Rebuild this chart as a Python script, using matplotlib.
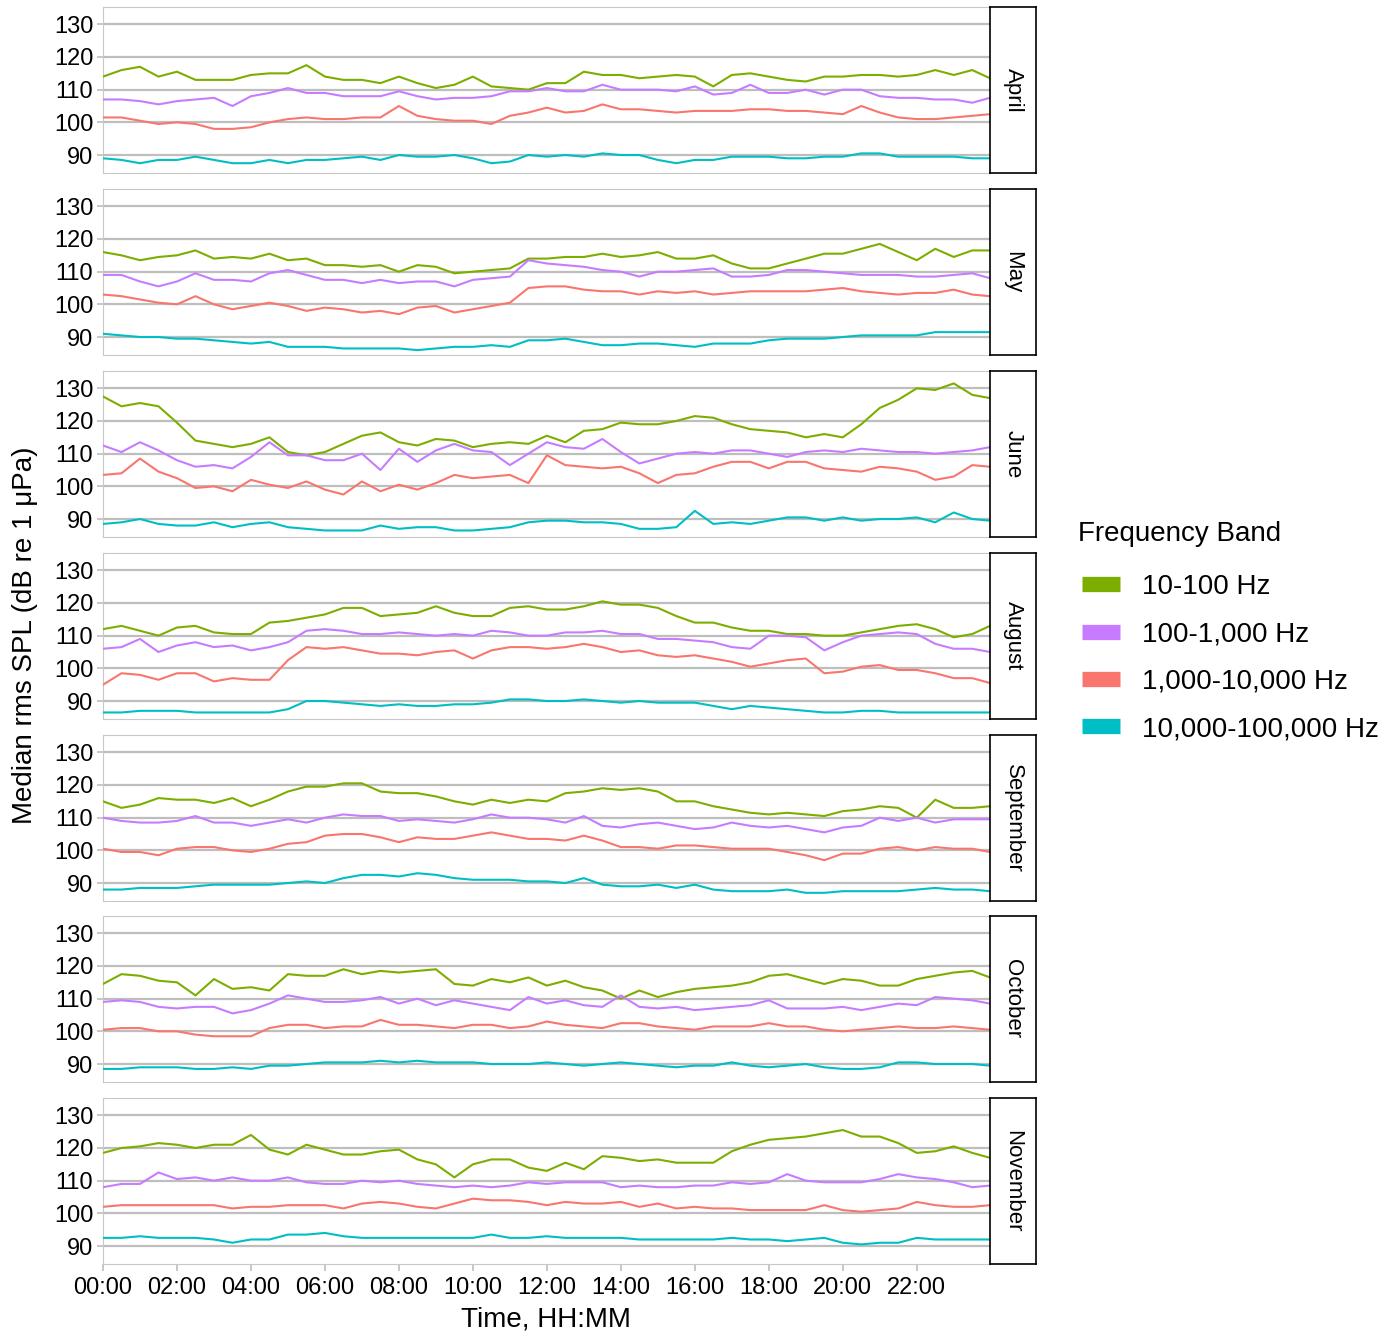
import numpy as np
import matplotlib
matplotlib.use('Agg')
import matplotlib.pyplot as plt
from matplotlib import font_manager
from matplotlib.lines import Line2D

# half-hourly medians, 00:00 .. 24:00
april_10_100 = [114, 116, 117, 114, 115.5, 113, 113, 113, 114.5, 115, 115, 117.5, 114, 113, 113, 112, 114, 112, 110.5, 111.5, 114, 111, 110.5, 110, 112,
                112, 115.5, 114.5, 114.5, 113.5, 114, 114.5, 114, 111, 114.5, 115, 114, 113, 112.5, 114, 114, 114.5, 114.5, 114, 114.5, 116, 114.5, 116, 113.5]
april_100_1k = [107, 107, 106.5, 105.5, 106.5, 107, 107.5, 105, 108, 109, 110.5, 109, 109, 108, 108, 108, 109.5, 108, 107, 107.5, 107.5, 108, 109.5, 109.5, 110.5,
                109.5, 109.5, 111.5, 110, 110, 110, 109.5, 111, 108.5, 109, 111.5, 109, 109, 110, 108.5, 110, 110, 108, 107.5, 107.5, 107, 107, 106, 107.5]
april_1k_10k = [101.5, 101.5, 100.5, 99.5, 100, 99.5, 98, 98, 98.5, 100, 101, 101.5, 101, 101, 101.5, 101.5, 105, 102, 101, 100.5, 100.5, 99.5, 102, 103, 104.5,
                103, 103.5, 105.5, 104, 104, 103.5, 103, 103.5, 103.5, 103.5, 104, 104, 103.5, 103.5, 103, 102.5, 105, 103, 101.5, 101, 101, 101.5, 102, 102.5]
april_10k_100k = [89, 88.5, 87.5, 88.5, 88.5, 89.5, 88.5, 87.5, 87.5, 88.5, 87.5, 88.5, 88.5, 89, 89.5, 88.5, 90, 89.5, 89.5, 90, 89, 87.5, 88, 90, 89.5,
                  90, 89.5, 90.5, 90, 90, 88.5, 87.5, 88.5, 88.5, 89.5, 89.5, 89.5, 89, 89, 89.5, 89.5, 90.5, 90.5, 89.5, 89.5, 89.5, 89.5, 89, 89]

may_10_100 = [116, 115, 113.5, 114.5, 115, 116.5, 114, 114.5, 114, 115.5, 113.5, 114, 112, 112, 111.5, 112, 110, 112, 111.5, 109.5, 110, 110.5, 111, 114, 114,
              114.5, 114.5, 115.5, 114.5, 115, 116, 114, 114, 115, 112.5, 111, 111, 112.5, 114, 115.5, 115.5, 117, 118.5, 116, 113.5, 117, 114.5, 116.5, 116.5]
may_100_1k = [109, 109, 107, 105.5, 107, 109.5, 107.5, 107.5, 107, 109.5, 110.5, 109, 107.5, 107.5, 106.5, 107.5, 106.5, 107, 107, 105.5, 107.5, 108, 108.5, 113.5, 112.5,
              112, 111.5, 110.5, 110, 108.5, 110, 110, 110.5, 111, 108.5, 108.5, 109, 110.5, 110.5, 110, 109.5, 109, 109, 109, 108.5, 108.5, 109, 109.5, 108]
may_1k_10k = [103, 102.5, 101.5, 100.5, 100, 102.5, 100, 98.5, 99.5, 100.5, 99.5, 98, 99, 98.5, 97.5, 98, 97, 99, 99.5, 97.5, 98.5, 99.5, 100.5, 105, 105.5,
              105.5, 104.5, 104, 104, 103, 104, 103.5, 104, 103, 103.5, 104, 104, 104, 104, 104.5, 105, 104, 103.5, 103, 103.5, 103.5, 104.5, 103, 102.5]
may_10k_100k = [91, 90.5, 90, 90, 89.5, 89.5, 89, 88.5, 88, 88.5, 87, 87, 87, 86.5, 86.5, 86.5, 86.5, 86, 86.5, 87, 87, 87.5, 87, 89, 89,
                89.5, 88.5, 87.5, 87.5, 88, 88, 87.5, 87, 88, 88, 88, 89, 89.5, 89.5, 89.5, 90, 90.5, 90.5, 90.5, 90.5, 91.5, 91.5, 91.5, 91.5]

june_10_100 = [127.5, 124.5, 125.5, 124.5, 119.5, 114, 113, 112, 113, 115, 110.5, 109.5, 110.5, 113, 115.5, 116.5, 113.5, 112.5, 114.5, 114, 112, 113, 113.5, 113, 115.5,
               113.5, 117, 117.5, 119.5, 119, 119, 120, 121.5, 121, 119, 117.5, 117, 116.5, 115, 116, 115, 119, 124, 126.5, 130, 129.5, 131.5, 128, 127]
june_100_1k = [112.5, 110.5, 113.5, 111, 108, 106, 106.5, 105.5, 109, 113.5, 109.5, 109.5, 108, 108, 110, 105, 111.5, 107.5, 111, 113, 111, 110.5, 106.5, 110, 113.5,
               112, 111.5, 114.5, 110.5, 107, 108.5, 110, 110.5, 110, 111, 111, 110, 109, 110.5, 111, 110.5, 111.5, 111, 110.5, 110.5, 110, 110.5, 111, 112]
june_1k_10k = [103.5, 104, 108.5, 104.5, 102.5, 99.5, 100, 98.5, 102, 100.5, 99.5, 101.5, 99, 97.5, 101.5, 98.5, 100.5, 99, 101, 103.5, 102.5, 103, 103.5, 101, 109.5,
               106.5, 106, 105.5, 106, 104, 101, 103.5, 104, 106, 107.5, 107.5, 105.5, 107.5, 107.5, 105.5, 105, 104.5, 106, 105.5, 104.5, 102, 103, 106.5, 106]
june_10k_100k = [88.5, 89, 90, 88.5, 88, 88, 89, 87.5, 88.5, 89, 87.5, 87, 86.5, 86.5, 86.5, 88, 87, 87.5, 87.5, 86.5, 86.5, 87, 87.5, 89, 89.5,
                 89.5, 89, 89, 88.5, 87, 87, 87.5, 92.5, 88.5, 89, 88.5, 89.5, 90.5, 90.5, 89.5, 90.5, 89.5, 90, 90, 90.5, 89, 92, 90, 89.5]

august_10_100 = [112, 113, 111.5, 110, 112.5, 113, 111, 110.5, 110.5, 114, 114.5, 115.5, 116.5, 118.5, 118.5, 116, 116.5, 117, 119, 117, 116, 116, 118.5, 119, 118,
                 118, 119, 120.5, 119.5, 119.5, 118.5, 116, 114, 114, 112.5, 111.5, 111.5, 110.5, 110.5, 110, 110, 111, 112, 113, 113.5, 112, 109.5, 110.5, 113]
august_100_1k = [106, 106.5, 109, 105, 107, 108, 106.5, 107, 105.5, 106.5, 108, 111.5, 112, 111.5, 110.5, 110.5, 111, 110.5, 110, 110.5, 110, 111.5, 111, 110, 110,
                 111, 111, 111.5, 110.5, 110.5, 109, 109, 108.5, 108, 106.5, 106, 110, 110, 109.5, 105.5, 108, 110, 110.5, 111, 110.5, 107.5, 106, 106, 105]
august_1k_10k = [95, 98.5, 98, 96.5, 98.5, 98.5, 96, 97, 96.5, 96.5, 102.5, 106.5, 106, 106.5, 105.5, 104.5, 104.5, 104, 105, 105.5, 103, 105.5, 106.5, 106.5, 106,
                 106.5, 107.5, 106.5, 105, 105.5, 104, 103.5, 104, 103, 102, 100.5, 101.5, 102.5, 103, 98.5, 99, 100.5, 101, 99.5, 99.5, 98.5, 97, 97, 95.5]
august_10k_100k = [86.5, 86.5, 87, 87, 87, 86.5, 86.5, 86.5, 86.5, 86.5, 87.5, 90, 90, 89.5, 89, 88.5, 89, 88.5, 88.5, 89, 89, 89.5, 90.5, 90.5, 90,
                   90, 90.5, 90, 89.5, 90, 89.5, 89.5, 89.5, 88.5, 87.5, 88.5, 88, 87.5, 87, 86.5, 86.5, 87, 87, 86.5, 86.5, 86.5, 86.5, 86.5, 86.5]

september_10_100 = [115, 113, 114, 116, 115.5, 115.5, 114.5, 116, 113.5, 115.5, 118, 119.5, 119.5, 120.5, 120.5, 118, 117.5, 117.5, 116.5, 115, 114, 115.5, 114.5, 115.5, 115,
                    117.5, 118, 119, 118.5, 119, 118, 115, 115, 113.5, 112.5, 111.5, 111, 111.5, 111, 110.5, 112, 112.5, 113.5, 113, 110, 115.5, 113, 113, 113.5]
september_100_1k = [110, 109, 108.5, 108.5, 109, 110.5, 108.5, 108.5, 107.5, 108.5, 109.5, 108.5, 110, 111, 110.5, 110.5, 109, 109.5, 109, 108.5, 109.5, 111, 110, 110, 109.5,
                    108.5, 110.5, 107.5, 107, 108, 108.5, 107.5, 106.5, 107, 108.5, 107.5, 107, 107.5, 106.5, 105.5, 107, 107.5, 110, 109, 110, 108.5, 109.5, 109.5, 109.5]
september_1k_10k = [100.5, 99.5, 99.5, 98.5, 100.5, 101, 101, 100, 99.5, 100.5, 102, 102.5, 104.5, 105, 105, 104, 102.5, 104, 103.5, 103.5, 104.5, 105.5, 104.5, 103.5, 103.5,
                    103, 104.5, 103, 101, 101, 100.5, 101.5, 101.5, 101, 100.5, 100.5, 100.5, 99.5, 98.5, 97, 99, 99, 100.5, 101, 100, 101, 100.5, 100.5, 99.5]
september_10k_100k = [88, 88, 88.5, 88.5, 88.5, 89, 89.5, 89.5, 89.5, 89.5, 90, 90.5, 90, 91.5, 92.5, 92.5, 92, 93, 92.5, 91.5, 91, 91, 91, 90.5, 90.5,
                      90, 91.5, 89.5, 89, 89, 89.5, 88.5, 89.5, 88, 87.5, 87.5, 87.5, 88, 87, 87, 87.5, 87.5, 87.5, 87.5, 88, 88.5, 88, 88, 87.5]

october_10_100 = [114.5, 117.5, 117, 115.5, 115, 111, 116, 113, 113.5, 112.5, 117.5, 117, 117, 119, 117.5, 118.5, 118, 118.5, 119, 114.5, 114, 116, 115, 116.5, 114,
                  115.5, 113.5, 112.5, 110, 112.5, 110.5, 112, 113, 113.5, 114, 115, 117, 117.5, 116, 114.5, 116, 115.5, 114, 114, 116, 117, 118, 118.5, 116.5]
october_100_1k = [109, 109.5, 109, 107.5, 107, 107.5, 107.5, 105.5, 106.5, 108.5, 111, 110, 109, 109, 109.5, 110.5, 108.5, 110, 108, 109.5, 108.5, 107.5, 106.5, 110.5, 108.5,
                  109.5, 108, 107.5, 111, 107.5, 107, 107.5, 106.5, 107, 107.5, 108, 109.5, 107, 107, 107, 107.5, 106.5, 107.5, 108.5, 108, 110.5, 110, 109.5, 108.5]
october_1k_10k = [100.5, 101, 101, 100, 100, 99, 98.5, 98.5, 98.5, 101, 102, 102, 101, 101.5, 101.5, 103.5, 102, 102, 101.5, 101, 102, 102, 101, 101.5, 103,
                  102, 101.5, 101, 102.5, 102.5, 101.5, 101, 100.5, 101.5, 101.5, 101.5, 102.5, 101.5, 101.5, 100.5, 100, 100.5, 101, 101.5, 101, 101, 101.5, 101, 100.5]
october_10k_100k = [88.5, 88.5, 89, 89, 89, 88.5, 88.5, 89, 88.5, 89.5, 89.5, 90, 90.5, 90.5, 90.5, 91, 90.5, 91, 90.5, 90.5, 90.5, 90, 90, 90, 90.5,
                    90, 89.5, 90, 90.5, 90, 89.5, 89, 89.5, 89.5, 90.5, 89.5, 89, 89.5, 90, 89, 88.5, 88.5, 89, 90.5, 90.5, 90, 90, 90, 89.5]

november_10_100 = [118.5, 120, 120.5, 121.5, 121, 120, 121, 121, 124, 119.5, 118, 121, 119.5, 118, 118, 119, 119.5, 116.5, 115, 111, 115, 116.5, 116.5, 114, 113,
                   115.5, 113.5, 117.5, 117, 116, 116.5, 115.5, 115.5, 115.5, 119, 121, 122.5, 123, 123.5, 124.5, 125.5, 123.5, 123.5, 121.5, 118.5, 119, 120.5, 118.5, 117]
november_100_1k = [108, 109, 109, 112.5, 110.5, 111, 110, 111, 110, 110, 111, 109.5, 109, 109, 110, 109.5, 110, 109, 108.5, 108, 108.5, 108, 108.5, 109.5, 109,
                   109.5, 109.5, 109.5, 108, 108.5, 108, 108, 108.5, 108.5, 109.5, 109, 109.5, 112, 110, 109.5, 109.5, 109.5, 110.5, 112, 111, 110.5, 109.5, 108, 108.5]
november_1k_10k = [102, 102.5, 102.5, 102.5, 102.5, 102.5, 102.5, 101.5, 102, 102, 102.5, 102.5, 102.5, 101.5, 103, 103.5, 103, 102, 101.5, 103, 104.5, 104, 104, 103.5, 102.5,
                   103.5, 103, 103, 103.5, 102, 103, 101.5, 102, 101.5, 101.5, 101, 101, 101, 101, 102.5, 101, 100.5, 101, 101.5, 103.5, 102.5, 102, 102, 102.5]
november_10k_100k = [92.5, 92.5, 93, 92.5, 92.5, 92.5, 92, 91, 92, 92, 93.5, 93.5, 94, 93, 92.5, 92.5, 92.5, 92.5, 92.5, 92.5, 92.5, 93.5, 92.5, 92.5, 93,
                     92.5, 92.5, 92.5, 92.5, 92, 92, 92, 92, 92, 92.5, 92, 92, 91.5, 92, 92.5, 91, 90.5, 91, 91, 92.5, 92, 92, 92, 92]

months = ['April', 'May', 'June', 'August', 'September', 'October', 'November']
bands = ['10-100 Hz', '100-1,000 Hz', '1,000-10,000 Hz', '10,000-100,000 Hz']
band_colors = ['#7CAE00', '#C77CFF', '#F8766D', '#00BFC4']
xtick_hours = [0, 2, 4, 6, 8, 10, 12, 14, 16, 18, 20, 22]
xtick_labels = ['%02d:00' % h for h in xtick_hours]
ytick_vals = [90, 100, 110, 120, 130]

data = {
    'April': [april_10_100, april_100_1k, april_1k_10k, april_10k_100k],
    'May': [may_10_100, may_100_1k, may_1k_10k, may_10k_100k],
    'June': [june_10_100, june_100_1k, june_1k_10k, june_10k_100k],
    'August': [august_10_100, august_100_1k, august_1k_10k, august_10k_100k],
    'September': [september_10_100, september_100_1k, september_1k_10k, september_10k_100k],
    'October': [october_10_100, october_100_1k, october_1k_10k, october_10k_100k],
    'November': [november_10_100, november_100_1k, november_1k_10k, november_10k_100k],
}


def has_font(name):
    try:
        font_manager.findfont(name, fallback_to_default=False)
        return True
    except Exception:
        return False


main_font = 'Liberation Sans' if has_font('Liberation Sans') else 'DejaVu Sans'
tick_font = 'Liberation Sans Narrow' if has_font('Liberation Sans Narrow') else main_font
plt.rcParams['font.family'] = main_font

W, H = 1397, 1337
fig = plt.figure(figsize=(W / 100, H / 100), dpi=100)

left, right = 103, 990
tops = [7, 189, 371, 553, 735, 916, 1098]
ph = 166
grid_col = '#bebebe'

for i, month in enumerate(months):
    top = tops[i]
    ax = fig.add_axes([left / W, 1 - (top + ph) / H, (right - left) / W, ph / H])
    for vals, col in zip(data[month], band_colors):
        v = np.array(vals, dtype=float)
        t = np.minimum(np.arange(len(v)) * 0.5, 23.98)
        ax.plot(t, v, color=col, lw=1.5, zorder=3)
    ax.set_xlim(0, 23.98)
    ax.set_ylim(84.5, 135.3)
    ax.set_yticks(ytick_vals)
    ax.set_yticklabels([str(y) for y in ytick_vals], fontsize=17, family=tick_font)
    ax.yaxis.grid(True, color=grid_col, lw=1.6, zorder=0)
    ax.set_axisbelow(True)
    ax.tick_params(axis='y', length=4, width=1.2, color=grid_col, pad=3)
    for s in ax.spines.values():
        s.set_color('#c8c8c8')
        s.set_linewidth(0.8)
    ax.set_xticks(xtick_hours)
    if i == len(months) - 1:
        ax.set_xticklabels(xtick_labels, fontsize=17, family=tick_font)
        ax.tick_params(axis='x', length=5, width=1.2, color=grid_col, pad=4)
    else:
        ax.tick_params(axis='x', length=0, labelbottom=False)

    # facet strip on the right
    sax = fig.add_axes([right / W, 1 - (top + ph) / H, 46 / W, ph / H])
    sax.set_xticks([])
    sax.set_yticks([])
    for s in sax.spines.values():
        s.set_color('black')
        s.set_linewidth(1.2)
    sax.text(0.5, 0.5, month, rotation=-90, ha='center', va='center',
             fontsize=16, transform=sax.transAxes)

fig.text(546 / W, 1 - 1320 / H, 'Time, HH:MM', ha='center', va='center', fontsize=20)
fig.text(25 / W, 1 - 635 / H, 'Median rms SPL (dB re 1 \u03bcPa)', rotation=90,
         ha='center', va='center', fontsize=20)

# legend
fig.text(1078 / W, 1 - 534 / H, 'Frequency Band', ha='left', va='center', fontsize=20)
handles = [Line2D([], [], color=c, lw=11, solid_capstyle='butt') for c in band_colors]
fig.legend(handles, bands, loc='upper left', bbox_to_anchor=(1057 / W, 1 - 549 / H),
           frameon=False, fontsize=20, handlelength=1.37, handletextpad=0.79,
           labelspacing=0.77, borderpad=0.4)

fig.savefig('out.png', dpi=100)
